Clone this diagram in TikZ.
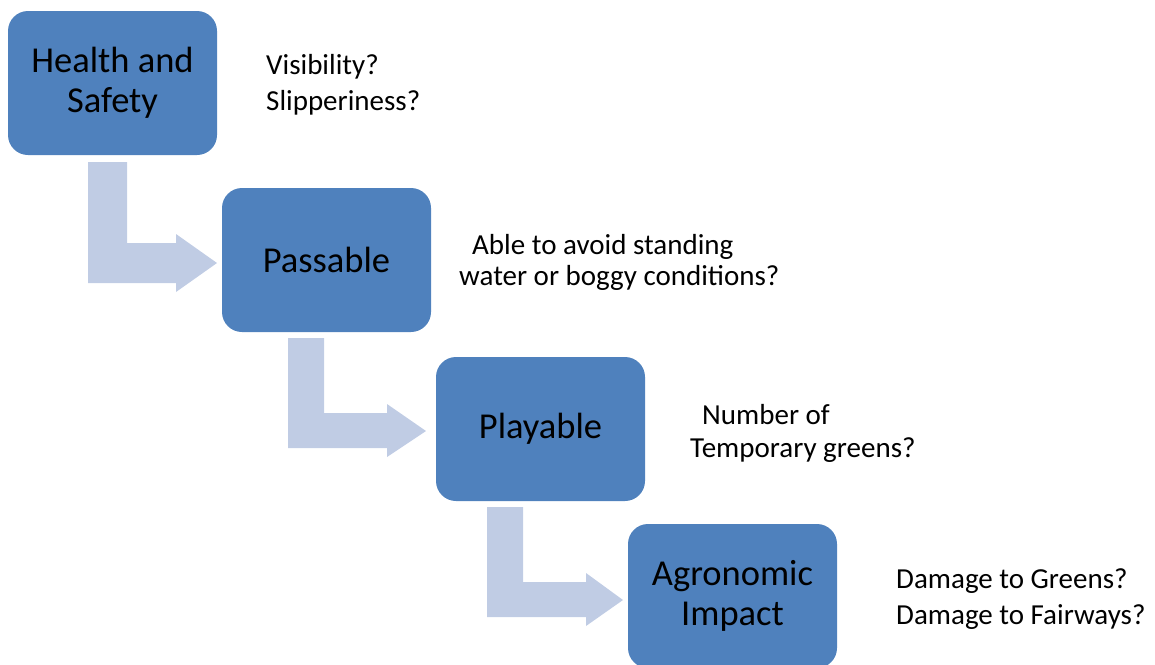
\documentclass[tikz,border=0pt]{standalone}
\usepackage{fontspec}
\setmainfont{Carlito}
\usetikzlibrary{positioning}
\definecolor{boxblue}{RGB}{79,129,189}
\definecolor{flowblue}{RGB}{192,204,228}
\tikzset{
    stage/.style = {
        fill=boxblue,
        shape=rectangle,
        rounded corners=20pt,
        minimum width=209pt,
        minimum height=144pt,
        align=center,
        font=\fontsize{36.5}{40}\selectfont
    },
    note/.style = {
        anchor=base west,
        inner sep=0pt,
        font=\fontsize{29}{34}\selectfont
    },
    flow/.style = {
        fill=flowblue
    },
}

\begin{document}
\begin{tikzpicture}[x=1pt,y=-1pt]
        \useasboundingbox (0,0) rectangle (1155,664);
        \clip (0,0) rectangle (1155,664);

        \node[stage] (hs) at (112.5,83) {Health and\\Safety};
        \node[stage] (pass) at (326.5,260) {Passable};
        \node[stage] (play) at (540.5,429) {Playable};
        \node[stage] (agro) at (732.5,596) {Agronomic\\Impact};

        % bent arrows between the stages
        \fill[flow] (88,162) -- (127,162) -- (127,243) -- (176,243) -- (176,234)
            -- (217,263) -- (176,292) -- (176,283) -- (88,283) -- cycle;
        \fill[flow] (288,338) -- (324,338) -- (324,413) -- (387,413) -- (387,404)
            -- (426,431) -- (387,457) -- (387,448) -- (288,448) -- cycle;
        \fill[flow] (487,507) -- (523,507) -- (523,582) -- (586,582) -- (586,573)
            -- (623,600) -- (586,626) -- (586,617) -- (487,617) -- cycle;

        \node[note] (vis) at (266,74) {Visibility?};
        \node[note] (slip) at (266,110) {Slipperiness?};
        \node[note] (able) at (472,254) {Able to avoid standing};
        \node[note] (water) at (459,285) {water or boggy conditions?};
        \node[note] (num) at (702,424) {Number of};
        \node[note] (temp) at (690,457) {Temporary greens?};
        \node[note] (dmgg) at (896,588) {Damage to Greens?};
        \node[note] (dmgf) at (896,624) {Damage to Fairways?};
    \end{tikzpicture}
\end{document}
